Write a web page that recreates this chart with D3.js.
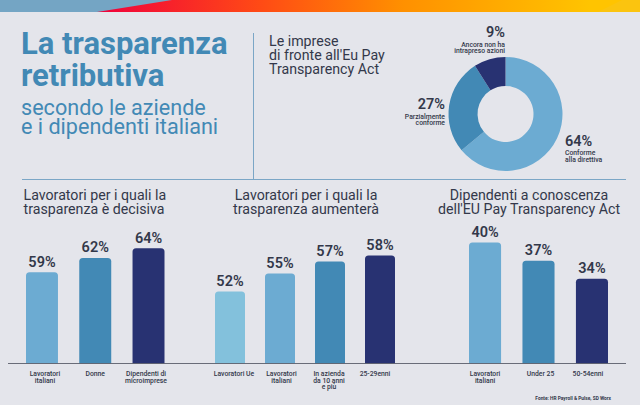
<!DOCTYPE html>
<html>
<head>
<meta charset="utf-8">
<script src="https://cdnjs.cloudflare.com/ajax/libs/d3/7.8.5/d3.min.js"></script>
<style>
  html, body { margin: 0; padding: 0; background: #e4e5eb; }
  svg { display: block; font-family: Roboto, sans-serif; }
</style>
</head>
<body>
<div id="chart"></div>
<script>
const titleLines = ['La trasparenza', 'retributiva'];
const subtitleLines = ['secondo le aziende', 'e i dipendenti italiani'];
const donutIntro = ['Le imprese', "di fronte all'Eu Pay", 'Transparency Act'];

const donutValues = [64, 27, 9];
const donutLabels = [['Conforme', 'alla direttiva'], ['Parzialmente', 'conforme'], ['Ancora non ha', 'intrapreso azioni']];

const decisivaTitle = ['Lavoratori per i quali la', 'trasparenza è decisiva'];
const decisivaCats = [['Lavoratori', 'italiani'], ['Donne'], ['Dipendenti di', 'microimprese']];
const decisivaValues = [59, 62, 64];

const aumenteraTitle = ['Lavoratori per i quali la', 'trasparenza aumenterà'];
const aumenteraCats = [['Lavoratori Ue'], ['Lavoratori', 'italiani'], ['In azienda', 'da 10 anni', 'e più'], ['25-29enni']];
const aumenteraValues = [52, 55, 57, 58];

const conoscenzaTitle = ['Dipendenti a conoscenza', "dell'EU Pay Transparency Act"];
const conoscenzaCats = [['Lavoratori', 'italiani'], ['Under 25'], ['50-54enni']];
const conoscenzaValues = [40, 37, 34];

const source = 'Fonte: HR Payroll & Pulse, SD Worx';

const width = 640, height = 405;
const ink = '#33384a', blue = '#4289b5', rule = '#7ba6c6';
const light = '#6cabd2', mid = '#4289b5', navy = '#283272', pale = '#83c1dc';
const baseY = 363.5;

const svg = d3.select('#chart').append('svg')
  .attr('width', width).attr('height', height);

svg.append('rect').attr('width', width).attr('height', height).attr('fill', '#e4e5eb');

// top band
const defs = svg.append('defs');
const grad = defs.append('linearGradient').attr('id', 'band')
  .attr('gradientUnits', 'userSpaceOnUse')
  .attr('x1', 97).attr('x2', 590).attr('y1', 0).attr('y2', 0);
grad.selectAll('stop')
  .data([[0, '#f0003c'], [0.33, '#ff4a15'], [0.62, '#ff9000'], [1, '#ffc400']])
  .enter().append('stop')
  .attr('offset', d => d[0]).attr('stop-color', d => d[1]);

svg.append('rect').attr('width', width).attr('height', 12).attr('fill', 'url(#band)');
svg.append('path').attr('d', 'M0,0H172L97,12H0Z').attr('fill', '#74a5c4');
svg.append('path').attr('d', 'M598,12L622,0H640V12Z').attr('fill', '#fbc40f');

function lines(g, arr, x, y, lh, anchor, size, weight, color) {
  g.selectAll(null).data(arr).enter().append('text')
    .attr('x', x)
    .attr('y', (d, i) => y + i * lh)
    .attr('text-anchor', anchor)
    .attr('font-size', size)
    .attr('font-weight', weight)
    .attr('fill', color)
    .text(d => d);
}

// header
lines(svg, titleLines, 21, 54, 31.5, 'start', 31, 700, blue);
lines(svg, subtitleLines, 21, 115, 18.5, 'start', 21.6, 400, blue);
lines(svg, donutIntro, 269, 46, 14, 'start', 14.2, 400, ink);

svg.append('line').attr('x1', 253.5).attr('x2', 253.5).attr('y1', 33).attr('y2', 179)
  .attr('stroke', rule);
svg.append('line').attr('x1', 22).attr('x2', 626).attr('y1', 179.5).attr('y2', 179.5)
  .attr('stroke', rule);

// donut
const donutG = svg.append('g').attr('transform', 'translate(505.5,114)');
const pie = d3.pie().sort(null);
const arc = d3.arc().innerRadius(28).outerRadius(57);
donutG.selectAll('path').data(pie(donutValues)).enter().append('path')
  .attr('d', arc)
  .attr('fill', (d, i) => [light, mid, navy][i]);

function donutLabel(i, x, y, anchor) {
  svg.append('text').attr('x', x).attr('y', y).attr('text-anchor', anchor)
    .attr('font-size', 14.5).attr('font-weight', 600).attr('fill', ink)
    .text(donutValues[i] + '%');
  lines(svg, donutLabels[i], x, y + 9.5, 6.7, anchor, 6.8, 500, ink);
}
donutLabel(0, 565, 145.5, 'start');
donutLabel(1, 445, 109, 'end');
donutLabel(2, 505, 37, 'end');

// one panel of bars, each has its own base value
function barPanel(opts) {
  const g = svg.append('g');
  const x = d3.scaleBand()
    .domain(opts.values.map((d, i) => i))
    .range(opts.range)
    .paddingInner(opts.pad).paddingOuter(0);
  const y = d3.scaleLinear().domain(opts.domain).range([baseY, baseY - opts.pxRange]);

  const bw = x.bandwidth(), r = 3.5;
  g.selectAll('path').data(opts.values).enter().append('path')
    .attr('d', (d, i) => {
      const x0 = x(i), top = y(d);
      return `M${x0},${baseY}V${top + r}Q${x0},${top} ${x0 + r},${top}H${x0 + bw - r}Q${x0 + bw},${top} ${x0 + bw},${top + r}V${baseY}Z`;
    })
    .attr('fill', (d, i) => opts.colors[i]);

  g.selectAll('.val').data(opts.values).enter().append('text')
    .attr('class', 'val')
    .attr('x', (d, i) => x(i) + bw / 2)
    .attr('y', d => y(d) - 5.5)
    .attr('text-anchor', 'middle')
    .attr('font-size', 14.5).attr('font-weight', 600).attr('fill', ink)
    .text(d => d + '%');

  opts.cats.forEach((c, i) => {
    lines(g, c, x(i) + bw / 2 + opts.labelDx[i], 376, 6.7, 'middle', 6.8, 500, ink);
  });

  lines(g, opts.title, opts.titleX, 200, 14, opts.titleAnchor, 14.2, 400, ink);
}

barPanel({
  values: decisivaValues, cats: decisivaCats, title: decisivaTitle,
  range: [26, 164.5], pad: 0.4, domain: [40, 65], pxRange: 120,
  colors: [light, mid, navy], titleX: 23.5, titleAnchor: 'start', labelDx: [3, 0, -2.5]
});
barPanel({
  values: aumenteraValues, cats: aumenteraCats, title: aumenteraTitle,
  range: [215, 395], pad: 0.4, domain: [40, 60], pxRange: 120,
  colors: [pale, light, mid, navy], titleX: 306, titleAnchor: 'middle', labelDx: [4, 1.5, -1, -5]
});
barPanel({
  values: conoscenzaValues, cats: conoscenzaCats, title: conoscenzaTitle,
  range: [469, 608], pad: 0.4, domain: [20, 40], pxRange: 121,
  colors: [light, mid, navy], titleX: 529, titleAnchor: 'middle', labelDx: [0, 2, -4]
});

svg.append('line').attr('x1', 8).attr('x2', 626).attr('y1', baseY).attr('y2', baseY)
  .attr('stroke', '#5a5e6b').attr('stroke-width', 0.9);

svg.append('text').attr('x', 611).attr('y', 400).attr('text-anchor', 'end')
  .attr('font-size', 4.8).attr('font-weight', 700).attr('fill', ink)
  .text(source);
</script>
</body>
</html>
